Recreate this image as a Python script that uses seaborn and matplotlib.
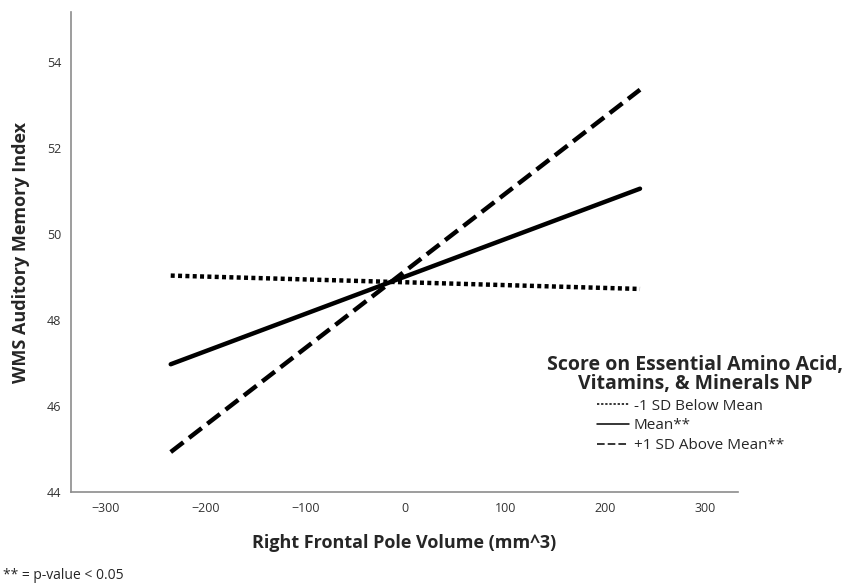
import pandas as pd
import numpy as np
import seaborn as sns
import matplotlib.pyplot as plt
from matplotlib.lines import Line2D

# valores
volume = [-235, 235]
grupos = ["-1 SD Below Mean", "Mean**", "+1 SD Above Mean**"]
abaixo = [49.03, 48.72]
media = [46.97, 51.05]
acima = [44.93, 53.35]

df = pd.DataFrame({
    "volume": volume * 3,
    "wms": abaixo + media + acima,
    "grupo": [grupos[0]] * 2 + [grupos[1]] * 2 + [grupos[2]] * 2,
})

sns.set_style("white")
plt.rcParams["font.family"] = ["Open Sans", "DejaVu Sans"]

fig = plt.figure(figsize=(8.54, 5.83), dpi=100)
ax = fig.add_axes([0.083, 0.156, 0.781, 0.823])

estilos = {grupos[0]: (0.9, 0.75), grupos[1]: "", grupos[2]: (3.6, 1.6)}
sns.lineplot(data=df, x="volume", y="wms", style="grupo", style_order=grupos,
             dashes=estilos, color="black", linewidth=3.2, legend=False, ax=ax)
for linha in ax.lines:
    linha.set_dash_capstyle("butt")

ax.set_xlim(-335, 333)
ax.set_ylim(44, 55.15)
ax.set_xticks([-300, -200, -100, 0, 100, 200, 300])
ax.set_yticks([44, 46, 48, 50, 52, 54])
ax.tick_params(axis="both", length=0, labelsize=9, colors="#333333", pad=7)
for s in ["top", "right"]:
    ax.spines[s].set_visible(False)
for s in ["left", "bottom"]:
    ax.spines[s].set_color("#8c8c8c")
    ax.spines[s].set_linewidth(1.2)

ax.set_xlabel("Right Frontal Pole Volume (mm^3)", fontsize=13, fontweight="bold", labelpad=14)
ax.set_ylabel("WMS Auditory Memory Index", fontsize=13, fontweight="bold", labelpad=12)

fig.text(0.814, 0.357, "Score on Essential Amino Acid,\nVitamins, & Minerals NP",
         ha="center", va="center", fontsize=14, fontweight="bold", linespacing=0.95)

handles = [
    Line2D([], [], color="black", lw=1.1, linestyle=(0, (1.5, 1.2))),
    Line2D([], [], color="black", lw=1.1),
    Line2D([], [], color="black", lw=1.1, linestyle=(0, (5, 2))),
]
fig.legend(handles, grupos, loc="upper left", bbox_to_anchor=(0.699, 0.316),
           frameon=False, fontsize=11, handlelength=2.1, handletextpad=0.3,
           labelspacing=0.3, borderaxespad=0, borderpad=0)

fig.text(0.003, 0.0, "** = p-value < 0.05", fontsize=10, ha="left", va="bottom")

fig.savefig("out.png", dpi=100)
